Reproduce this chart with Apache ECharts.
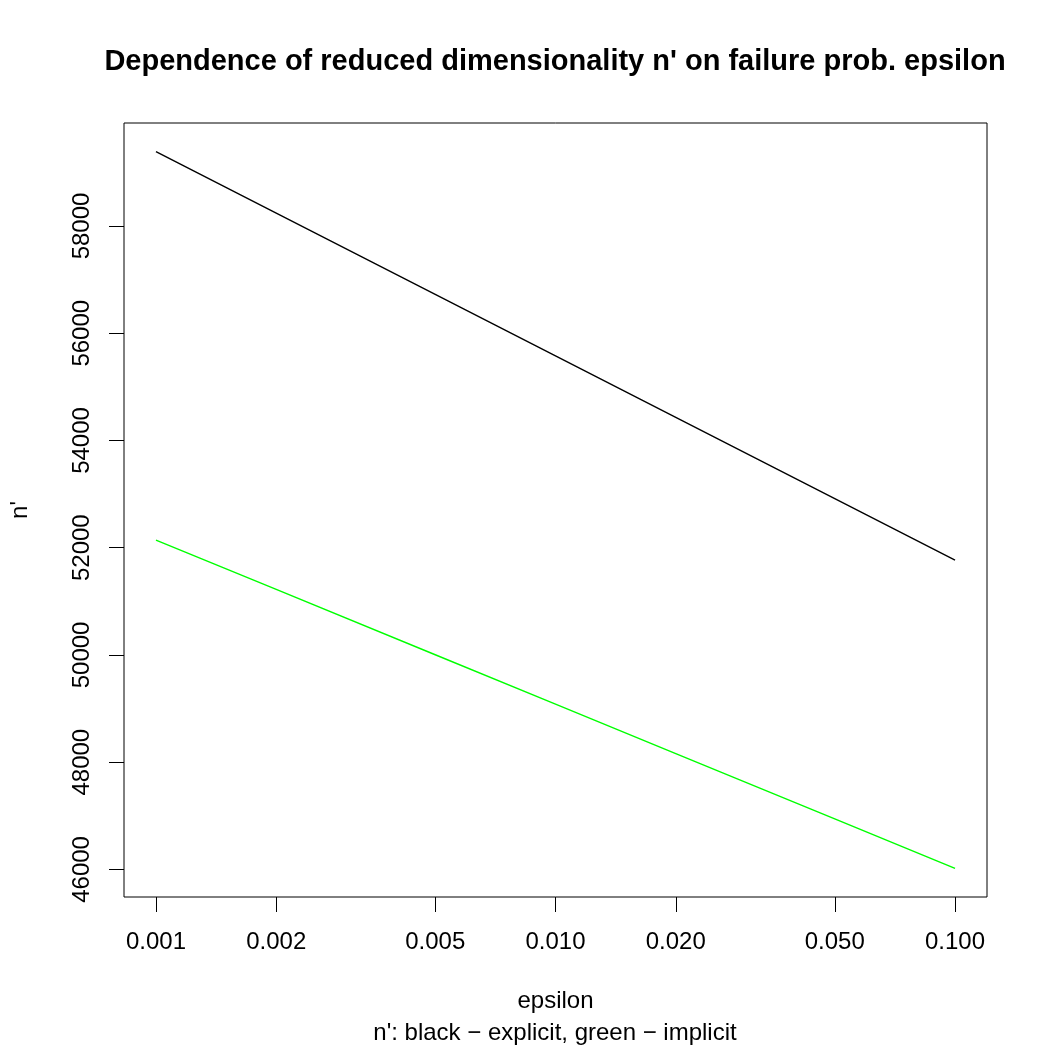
<!DOCTYPE html>
<html>
<head>
<meta charset="utf-8">
<script src="https://cdn.jsdelivr.net/npm/echarts@6/dist/echarts.min.js"></script>
<style>html,body{margin:0;padding:0;background:#fff}#c{width:1050px;height:1050px}</style>
</head>
<body>
<div id="c"></div>
<script>
const epsilon = [0.001, 0.002, 0.005, 0.01, 0.02, 0.05, 0.1];
const explicitN = [59386, 58240, 56724, 55578, 54432, 52916, 51770];
const implicitN = [52143, 51221, 50003, 49082, 48160, 46942, 46020];
const xTicks = [0.001, 0.002, 0.005, 0.01, 0.02, 0.05, 0.1];
const yTicks = [46000, 48000, 50000, 52000, 54000, 56000, 58000];

const FONT = '"Liberation Sans", Arial, Helvetica, sans-serif';
const lx = epsilon.map(v => Math.log10(v));
const xMinD = Math.min(...lx), xMaxD = Math.max(...lx);
const xPad = (xMaxD - xMinD) * 0.04;
const allY = explicitN.concat(implicitN);
const yMinD = Math.min(...allY), yMaxD = Math.max(...allY);
const yPad = (yMaxD - yMinD) * 0.04;

const chart = echarts.init(document.getElementById('c'), null, {renderer: 'canvas'});
chart.setOption({
  animation: false,
  backgroundColor: '#fff',
  grid: {left: 123, right: 63, top: 123, bottom: 153, show: true, borderColor: '#000', borderWidth: 1, backgroundColor: 'transparent'},
  xAxis: {
    type: 'value', min: xMinD - xPad, max: xMaxD + xPad,
    name: 'epsilon', nameLocation: 'middle', nameGap: 92,
    nameTextStyle: {fontFamily: FONT, fontSize: 24, color: '#000'},
    axisLine: {show: false},
    splitLine: {show: false},
    axisTick: {show: true, inside: false, length: 15, customValues: xTicks.map(v => Math.log10(v)), lineStyle: {color: '#000', width: 1}},
    axisLabel: {show: true, margin: 33, fontFamily: FONT, fontSize: 24, color: '#000',
      customValues: xTicks.map(v => Math.log10(v)),
      formatter: v => Math.pow(10, v).toFixed(3)}
  },
  yAxis: {
    type: 'value', min: yMinD - yPad, max: yMaxD + yPad,
    name: "n'", nameLocation: 'middle', nameGap: 92,
    nameTextStyle: {fontFamily: FONT, fontSize: 24, color: '#000'},
    axisLine: {show: false},
    splitLine: {show: false},
    axisTick: {show: true, inside: false, length: 15, customValues: yTicks, lineStyle: {color: '#000', width: 1}},
    axisLabel: {show: true, margin: 30, rotate: 90, fontFamily: FONT, fontSize: 24, color: '#000',
      customValues: yTicks, formatter: v => String(v)}
  },
  series: [
    {type: 'line', name: 'explicit', data: lx.map((x, i) => [x, explicitN[i]]), showSymbol: false, symbol: 'none',
     lineStyle: {color: '#000000', width: 1.4}},
    {type: 'line', name: 'implicit', data: lx.map((x, i) => [x, implicitN[i]]), showSymbol: false, symbol: 'none',
     lineStyle: {color: '#00ff00', width: 1.4}}
  ],
  graphic: [
    {type: 'text', left: null, x: 555, y: 62, style: {text: "Dependence of reduced dimensionality n' on failure prob. epsilon",
      font: 'bold 29px ' + FONT, fill: '#000', align: 'center', verticalAlign: 'middle'}},
    {type: 'text', x: 555, y: 1033, style: {text: "n': black \u2212 explicit, green \u2212 implicit",
      font: '24px ' + FONT, fill: '#000', align: 'center', verticalAlign: 'middle'}}
  ]
});
</script>
</body>
</html>
